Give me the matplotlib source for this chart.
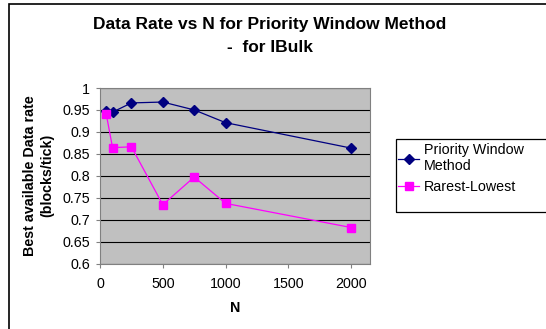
import matplotlib
matplotlib.use("Agg")
import matplotlib.pyplot as plt
from matplotlib.patches import Rectangle

plt.rcParams['font.family'] = ['Liberation Sans', 'DejaVu Sans']

# data
n_values = [50, 100, 250, 500, 750, 1000, 2000]
priority_window = [0.948, 0.945, 0.966, 0.968, 0.950, 0.921, 0.863]
rarest_lowest = [0.940, 0.864, 0.866, 0.734, 0.797, 0.737, 0.682]
y_ticks = [0.6, 0.65, 0.7, 0.75, 0.8, 0.85, 0.9, 0.95, 1]
y_labels = ['0.6', '0.65', '0.7', '0.75', '0.8', '0.85', '0.9', '0.95', '1']
x_ticks = [0, 500, 1000, 1500, 2000]


def main():
    fig = plt.figure(figsize=(5.46, 3.29), dpi=100)
    W, H = 546, 329

    # outer chart border
    fig.patches.append(Rectangle((9 / W, -0.1), 1.0, 1.1 - 4 / H,
                                 transform=fig.transFigure, fill=False,
                                 edgecolor='black', linewidth=1.2))

    ax = fig.add_axes([100 / W, 1 - 263.5 / H, 270 / W, 175.5 / H])
    ax.set_facecolor('#C0C0C0')
    ax.plot(n_values, priority_window, color='#000080', marker='D',
            markersize=5.5, linewidth=0.9, label='Priority Window\nMethod')
    ax.plot(n_values, rarest_lowest, color='#FF00FF', marker='s',
            markersize=5.5, linewidth=0.9, label='Rarest-Lowest')

    ax.set_xlim(0, 2150)
    ax.set_ylim(0.6, 1.0)
    ax.set_xticks(x_ticks)
    ax.set_yticks(y_ticks)
    ax.set_yticklabels(y_labels)
    ax.yaxis.grid(True, color='black', linewidth=0.8)
    ax.set_axisbelow(True)
    ax.tick_params(labelsize=10.3, length=3, color='#808080')
    ax.tick_params(axis='y', pad=4)
    ax.tick_params(axis='x', pad=7)
    for s in ax.spines.values():
        s.set_color('#808080')

    ax.set_xlabel('N', fontsize=10.3, fontweight='bold', labelpad=7)
    ax.set_ylabel('Best available Data rate\n(blocks/tick)', fontsize=10.3,
                  fontweight='bold', labelpad=6, linespacing=1.3)

    fig.text(270 / W, 1 - 25 / H, 'Data Rate vs N for Priority Window Method',
             ha='center', va='center', fontsize=12.5, fontweight='bold')
    fig.text(270 / W, 1 - 47 / H, '-  for IBulk',
             ha='center', va='center', fontsize=12.5, fontweight='bold')

    # legend box runs off the right edge like the original
    fig.patches.append(Rectangle((396 / W, 1 - 212 / H), 200 / W, 73 / H,
                                 transform=fig.transFigure, fill=False,
                                 edgecolor='black', linewidth=0.9))
    fig.legend(loc='upper left', bbox_to_anchor=(398 / W, 1 - 143 / H),
               fontsize=10.3, frameon=False, handlelength=1.5, borderpad=0,
               borderaxespad=0, labelspacing=0.45, handletextpad=0.3)

    fig.savefig('out.png', dpi=100)


if __name__ == "__main__":
    main()
